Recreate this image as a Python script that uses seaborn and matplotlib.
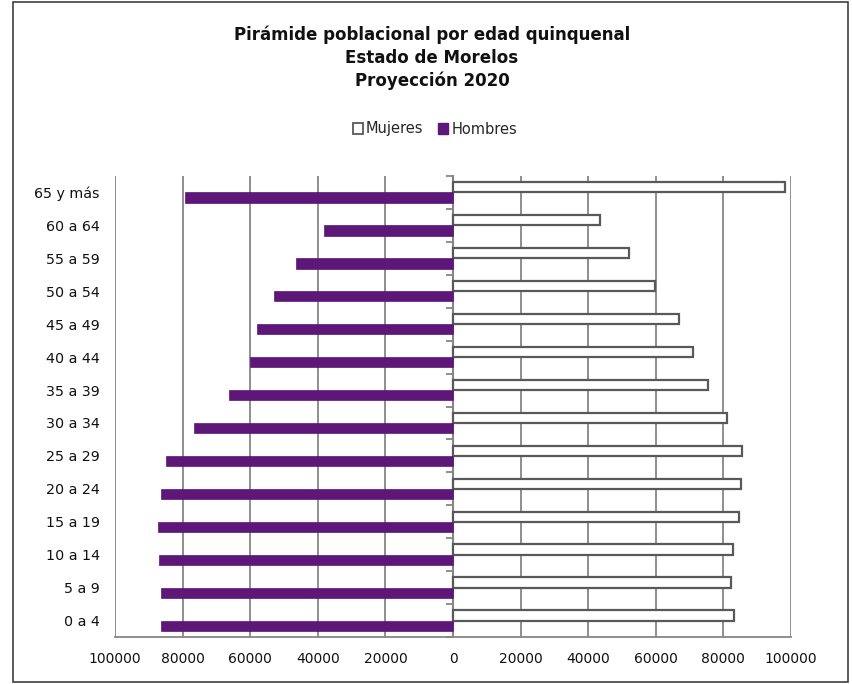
import matplotlib.pyplot as plt
import seaborn as sns
import pandas as pd
import numpy as np
from matplotlib.patches import Patch, Rectangle
from matplotlib.ticker import FuncFormatter

grupos = ['0 a 4', '5 a 9', '10 a 14', '15 a 19', '20 a 24', '25 a 29', '30 a 34',
          '35 a 39', '40 a 44', '45 a 49', '50 a 54', '55 a 59', '60 a 64', '65 y más']
hombres = [86400, 86300, 86900, 87300, 86300, 85000, 76500,
           66300, 60100, 58000, 52900, 46400, 38300, 79300]
mujeres = [83000, 82300, 82800, 84600, 85300, 85400, 81200,
           75500, 71000, 67000, 59700, 52000, 43400, 98200]
ticks_x = list(range(-100000, 100001, 20000))

color_h = '#5c1778'
gris = '#868686'

df = pd.DataFrame({
    'grupo': grupos * 2,
    'sexo': ['Mujeres'] * len(grupos) + ['Hombres'] * len(grupos),
    'poblacion': mujeres + [-h for h in hombres],
})

sns.set_style('white')
plt.rcParams['font.family'] = ['DejaVu Sans']

fig = plt.figure(figsize=(8.52, 6.84), dpi=100)
ax = fig.add_axes([115 / 852, 1 - 637 / 684, 676 / 852, 461 / 684])

sns.barplot(data=df, x='poblacion', y='grupo', hue='sexo',
            order=grupos[::-1], hue_order=['Mujeres', 'Hombres'],
            palette={'Mujeres': 'white', 'Hombres': color_h},
            saturation=1, width=0.62, dodge=True, orient='h',
            legend=False, ax=ax)

for bar in ax.containers[0]:
    bar.set_edgecolor('#595959')
    bar.set_linewidth(1.6)
for bar in ax.containers[1]:
    bar.set_edgecolor(color_h)
    bar.set_linewidth(0.5)

ax.set_xlim(-100000, 100000)
ax.set_ylim(len(grupos) - 0.5, -0.5)
ax.set_xticks(ticks_x)
ax.xaxis.set_major_formatter(FuncFormatter(lambda v, p: f'{abs(int(v))}'))
ax.grid(True, axis='x', color=gris, linewidth=1.3)
ax.set_axisbelow(True)
ax.set_xlabel('')
ax.set_ylabel('')

for s in ['top', 'right', 'left']:
    ax.spines[s].set_visible(False)
ax.spines['bottom'].set_color(gris)
ax.spines['bottom'].set_linewidth(1.3)
ax.tick_params(axis='x', direction='out', length=5, width=1.3, color=gris,
               labelsize=10, labelcolor='#111111', pad=6)
ax.tick_params(axis='y', length=0, labelsize=10.3, labelcolor='#111111', pad=11)

# eje vertical en 0 con marcas en los límites de cada grupo
sec = ax.secondary_yaxis(0.5)
sec.set_alignment('left')
sec.set_yticks(np.arange(-0.5, len(grupos), 1))
sec.set_yticklabels([])
sec.tick_params(direction='out', length=5, width=1.3, color=gris)
sec.spines['left'].set_color(gris)
sec.spines['left'].set_linewidth(1.5)

fig.text(432 / 852, 1 - 58 / 684,
         'Pirámide poblacional por edad quinquenal\nEstado de Morelos\nProyección 2020',
         ha='center', va='center', fontsize=12, fontweight='bold',
         linespacing=1.35, color='#111111')

handles = [Patch(facecolor='white', edgecolor='#595959', linewidth=1.3, label='Mujeres'),
           Patch(facecolor=color_h, edgecolor=color_h, label='Hombres')]
fig.legend(handles=handles, loc='center', bbox_to_anchor=(435 / 852, 1 - 129 / 684),
           ncol=2, frameon=False, fontsize=10.5, handlelength=0.7, handleheight=0.7,
           handletextpad=0.2, columnspacing=1.0)

fig.patches.append(Rectangle((13 / 852, 2 / 684), 835 / 852, 680 / 684,
                             transform=fig.transFigure, fill=False,
                             edgecolor='#404040', linewidth=1.2))

fig.savefig('out.png', dpi=100)
